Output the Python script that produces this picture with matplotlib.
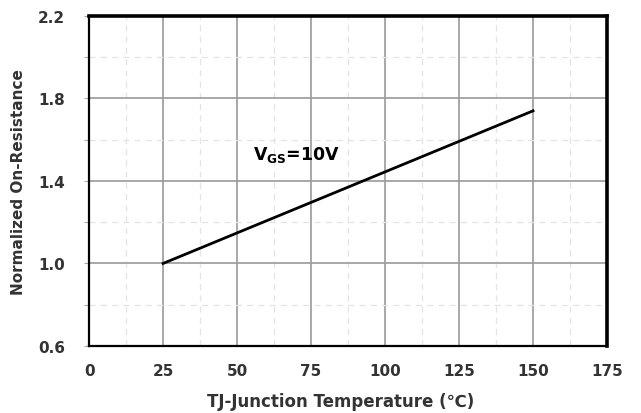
import matplotlib
matplotlib.use("Agg")
import matplotlib.pyplot as plt
from matplotlib.ticker import MultipleLocator

plt.rcParams['font.family'] = ['DejaVu Sans']
plt.rcParams['mathtext.fontset'] = 'dejavusans'

temperature = [25, 150]
resistance = [1.0, 1.74]
x_ticks = [0, 25, 50, 75, 100, 125, 150, 175]
y_ticks = [0.6, 1.0, 1.4, 1.8, 2.2]

fig = plt.figure(figsize=(6.41, 4.14), dpi=100)
ax = fig.add_axes([0.139, 0.162, 0.808, 0.797])

ax.plot(temperature, resistance, color='black', lw=2.0, zorder=3)
ax.set_xlim(0, 175)
ax.set_ylim(0.6, 2.2)
ax.set_xticks(x_ticks)
ax.set_yticks(y_ticks)
ax.set_yticklabels([f"{v:.1f}" for v in y_ticks])
ax.xaxis.set_minor_locator(MultipleLocator(12.5))
ax.yaxis.set_minor_locator(MultipleLocator(0.2))

ax.grid(which='major', color='#9a9a9a', lw=1.2, ls='-')
ax.grid(which='minor', color='#e4e4e4', lw=0.9, ls=(0, (5, 4)))
ax.set_axisbelow(True)

for s in ['top', 'right']:
    ax.spines[s].set_linewidth(2.6)
for s in ['left', 'bottom']:
    ax.spines[s].set_linewidth(1.6)

ax.tick_params(which='both', direction='out', length=3.5, width=0.8, color='#aaaaaa')
ax.tick_params(axis='x', which='both', length=0, pad=12)
ax.tick_params(axis='y', pad=14)
for lab in ax.get_xticklabels() + ax.get_yticklabels():
    lab.set_fontweight('bold')
    lab.set_fontsize(11)
    lab.set_color('#333333')

ax.set_xlabel('TJ-Junction Temperature (\u2103)', fontsize=12, fontweight='bold',
              color='#333333')
ax.xaxis.set_label_coords(0.486, -0.14)
ax.set_ylabel('Normalized On-Resistance', fontsize=11, fontweight='bold',
              color='#333333')
ax.yaxis.set_label_coords(-0.122, 0.5)

ax.text(55.3, 1.53, r'V$_{\mathbf{GS}}$=10V', fontsize=12.5, fontweight='bold',
        color='black', va='center', ha='left')

fig.savefig('out.png', dpi=100)
